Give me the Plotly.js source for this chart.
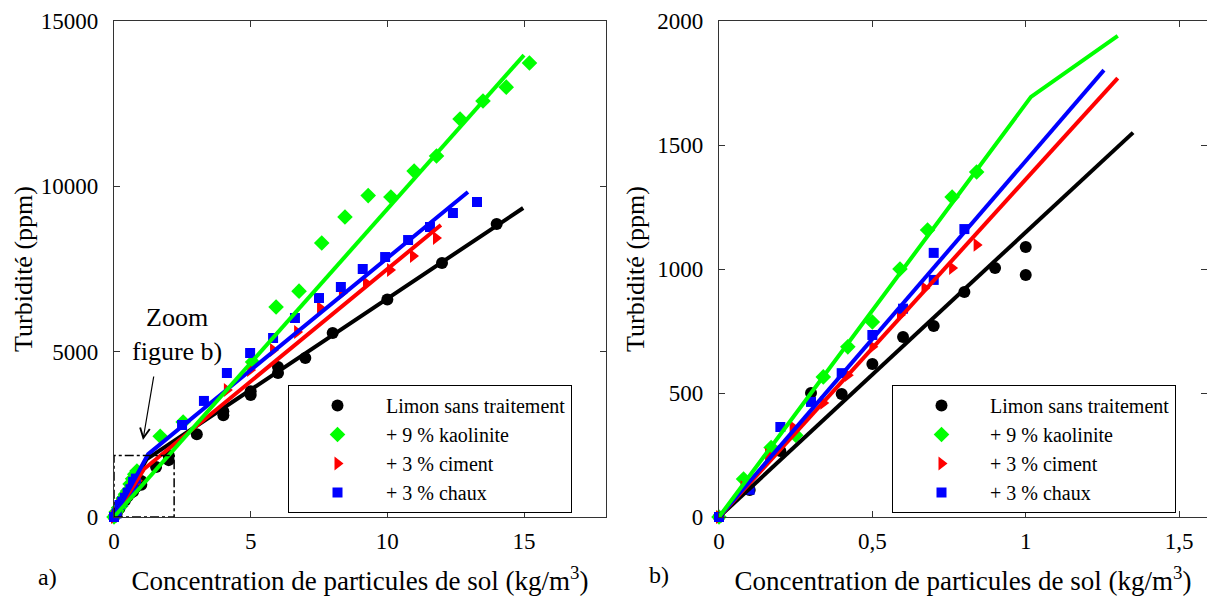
<!DOCTYPE html>
<html><head><meta charset="utf-8">
<script src="https://cdn.plot.ly/plotly-3.0.1.min.js"></script>
<style>html,body{margin:0;padding:0;background:#fff}</style>
</head><body><div id="chart" style="width:1207px;height:599px"></div>
<script>
const seriesNames = ['Limon sans traitement', '+ 9 % kaolinite', '+ 3 % ciment', '+ 3 % chaux'];
const seriesColors = ['#000000', '#00ff00', '#ff0000', '#0000ff'];
const seriesSymbols = ['circle', 'diamond', 'triangle-right', 'square'];
const seriesSizes = [12, 12, 12, 10];

// Low concentration measurements (figure b, also inside the dashed box of a)
const limonX_low = [0, 0.1, 0.2, 0.3, 0.4, 0.5, 0.6, 0.7, 0.8, 0.9, 1.0, 1.0];
const limonY_low = [0, 109, 266, 500, 496, 617, 726, 770, 907, 1004, 1089, 976];
const kaoX_low = [0, 0.08, 0.17, 0.25, 0.34, 0.42, 0.50, 0.59, 0.68, 0.76, 0.84];
const kaoY_low = [0, 153, 280, 330, 565, 686, 786, 1000, 1157, 1290, 1391];
const cimX_low = [0, 0.08, 0.16, 0.24, 0.34, 0.42, 0.50, 0.59, 0.67, 0.76, 0.84];
const cimY_low = [0, 120, 250, 363, 460, 572, 686, 815, 923, 1004, 1097];
const chauxX_low = [0, 0.1, 0.2, 0.3, 0.4, 0.5, 0.6, 0.7, 0.7, 0.8];
const chauxY_low = [0, 110, 363, 464, 580, 734, 840, 956, 1065, 1161];

// Higher concentration measurements (figure a only)
const limonX_high = [1.54, 2.0, 2.0, 3.03, 4, 4, 5, 5, 6, 6, 7, 8, 10, 12, 14];
const limonY_high = [1510, 1720, 1870, 2500, 3080, 3200, 3690, 3800, 4355, 4536, 4808, 5565, 6580, 7680, 8860];
const kaoX_high = [1.69, 2.53, 5.07, 5.93, 6.77, 7.6, 8.45, 9.3, 10.13, 10.98, 11.8, 12.66, 13.5, 14.35, 15.2];
const kaoY_high = [2440, 2873, 4687, 6350, 6830, 8286, 9072, 9720, 9677, 10460, 10917, 12036, 12580, 13000, 13730];
const cimX_high = [4.13, 4.98, 5.82, 6.7, 7.54, 8.34, 9.22, 10.1, 10.94, 11.78];
const cimY_high = [3840, 4445, 5050, 5594, 6320, 6774, 7076, 7470, 7893, 8437];
const chauxX_high = [2.49, 3.29, 4.13, 4.98, 5.82, 6.62, 7.5, 8.3, 9.1, 9.92, 10.76, 11.56, 12.4, 13.28];
const chauxY_high = [2782, 3510, 4355, 4959, 5413, 6018, 6622, 6955, 7500, 7862, 8376, 8770, 9193, 9526];

// Model curves, figure a
const fitA_limonX = [0, 1.2, 14.97];   const fitA_limonY = [0, 1750, 9345];
const fitA_kaoX = [0, 15.0];           const fitA_kaoY = [0, 13970];
const fitA_cimX = [0, 1.1, 11.96];     const fitA_cimY = [0, 1450, 8830];
const fitA_chauxX = [0, 1.25, 12.95];  const fitA_chauxY = [0, 1900, 9830];
// Model curves, figure b
const fitB_limonX = [0, 1.35];         const fitB_limonY = [0, 1550];
const fitB_kaoX = [0, 1.017, 1.30];    const fitB_kaoY = [0, 1694, 1940];
const fitB_cimX = [0, 1.30];           const fitB_cimY = [0, 1770];
const fitB_chauxX = [0, 1.255];        const fitB_chauxY = [0, 1802];

// Ticks
const xTicksA = [0, 5, 10, 15];          const xTickTextA = ['0', '5', '10', '15'];
const yTicksA = [0, 5000, 10000, 15000]; const yTickTextA = ['0', '5000', '10000', '15000'];
const xTicksB = [0, 0.5, 1, 1.5];        const xTickTextB = ['0', '0,5', '1', '1,5'];
const yTicksB = [0, 500, 1000, 1500, 2000]; const yTickTextB = ['0', '500', '1000', '1500', '2000'];

const FONT = 'Liberation Serif, serif';

const lowX = [limonX_low, kaoX_low, cimX_low, chauxX_low];
const lowY = [limonY_low, kaoY_low, cimY_low, chauxY_low];
const highX = [limonX_high, kaoX_high, cimX_high, chauxX_high];
const highY = [limonY_high, kaoY_high, cimY_high, chauxY_high];
const fitAX = [fitA_limonX, fitA_kaoX, fitA_cimX, fitA_chauxX];
const fitAY = [fitA_limonY, fitA_kaoY, fitA_cimY, fitA_chauxY];
const fitBX = [fitB_limonX, fitB_kaoX, fitB_cimX, fitB_chauxX];
const fitBY = [fitB_limonY, fitB_kaoY, fitB_cimY, fitB_chauxY];

const traces = [];
for (let i = 0; i < 4; i++) {
  traces.push({x: lowX[i].concat(highX[i]), y: lowY[i].concat(highY[i]),
    xaxis: 'x', yaxis: 'y', mode: 'markers', name: seriesNames[i], legend: 'legend',
    marker: {color: seriesColors[i], symbol: seriesSymbols[i], size: seriesSizes[i]}, cliponaxis: false});
}
for (let i = 0; i < 4; i++) {
  traces.push({x: lowX[i], y: lowY[i],
    xaxis: 'x2', yaxis: 'y2', mode: 'markers', name: seriesNames[i], legend: 'legend2',
    marker: {color: seriesColors[i], symbol: seriesSymbols[i], size: seriesSizes[i]}, cliponaxis: false});
}
const lineOrder = [0, 2, 3, 1];
for (const i of lineOrder) {
  traces.push({x: fitAX[i], y: fitAY[i], xaxis: 'x', yaxis: 'y', mode: 'lines', showlegend: false,
    line: {color: seriesColors[i], width: 4}, hoverinfo: 'skip'});
}
for (const i of lineOrder) {
  traces.push({x: fitBX[i], y: fitBY[i], xaxis: 'x2', yaxis: 'y2', mode: 'lines', showlegend: false,
    line: {color: seriesColors[i], width: 4}, hoverinfo: 'skip'});
}

const axisCommon = {
  showgrid: false, zeroline: false, showline: true, linecolor: '#333', linewidth: 1.2,
  mirror: 'allticks', ticks: 'inside', ticklen: 6, tickcolor: '#333', tickwidth: 1,
  tickfont: {family: FONT, size: 23, color: '#000'}, tickmode: 'array'
};
const xTitle = 'Concentration de particules de sol (kg/m<sup>3</sup>)';
const legendCommon = {xanchor: 'left', yanchor: 'top', bordercolor: '#000', borderwidth: 1,
  bgcolor: '#fff', itemwidth: 87, font: {family: FONT, size: 20, color: '#000'}};

const layout = {
  width: 1207, height: 599,
  margin: {l: 0, r: 0, t: 0, b: 0},
  paper_bgcolor: '#fff', plot_bgcolor: '#fff',
  font: {family: FONT, color: '#000'},
  xaxis: Object.assign({}, axisCommon, {domain: [114/1207, 606/1207], range: [0, 18], anchor: 'y',
    tickvals: xTicksA, ticktext: xTickTextA, ticklabelstandoff: 3,
    title: {text: xTitle, font: {family: FONT, size: 27}, standoff: 18}}),
  yaxis: Object.assign({}, axisCommon, {domain: [82/599, 578/599], range: [0, 15000], anchor: 'x',
    tickvals: yTicksA, ticktext: yTickTextA, ticklabelstandoff: 10,
    title: {text: 'Turbidité (ppm)', font: {family: FONT, size: 26}, standoff: 0}}),
  xaxis2: Object.assign({}, axisCommon, {domain: [719/1207, 1], range: [0, 1.591], anchor: 'y2',
    tickvals: xTicksB, ticktext: xTickTextB, ticklabelstandoff: 3,
    title: {text: xTitle, font: {family: FONT, size: 27}, standoff: 18}}),
  yaxis2: Object.assign({}, axisCommon, {domain: [82/599, 578/599], range: [0, 2000], anchor: 'x2',
    tickvals: yTicksB, ticktext: yTickTextB, ticklabelstandoff: 10,
    title: {text: 'Turbidité (ppm)', font: {family: FONT, size: 26}, standoff: 5}}),
  legend: Object.assign({}, legendCommon, {x: 288/1207, y: 1 - 385/599}),
  legend2: Object.assign({}, legendCommon, {x: 892/1207, y: 1 - 385/599}),
  shapes: [{type: 'rect', xref: 'x', yref: 'y', x0: 0, x1: 2.2, y0: 0, y1: 1860,
    line: {color: '#000', width: 1.5, dash: 'dashdot'}}],
  annotations: [
    {text: 'Zoom<br>figure b)', xref: 'paper', yref: 'paper', x: 177/1207, y: 1 - 334/599,
      xanchor: 'center', yanchor: 'middle', showarrow: false, font: {family: FONT, size: 26, color: '#000'}},
    {text: '', xref: 'x', yref: 'y', x: 1.06, y: 2328, ax: 11, ay: -65, showarrow: true,
      arrowhead: 5, arrowsize: 1.6, arrowwidth: 1.2, arrowcolor: '#000'},
    {text: 'a)', xref: 'paper', yref: 'paper', x: 47/1207, y: 1 - 577/599,
      xanchor: 'center', yanchor: 'middle', showarrow: false, font: {family: FONT, size: 24, color: '#000'}},
    {text: 'b)', xref: 'paper', yref: 'paper', x: 659/1207, y: 1 - 575/599,
      xanchor: 'center', yanchor: 'middle', showarrow: false, font: {family: FONT, size: 24, color: '#000'}}
  ]
};

Plotly.newPlot('chart', traces, layout, {displayModeBar: false, staticPlot: true});
</script>
</body></html>
